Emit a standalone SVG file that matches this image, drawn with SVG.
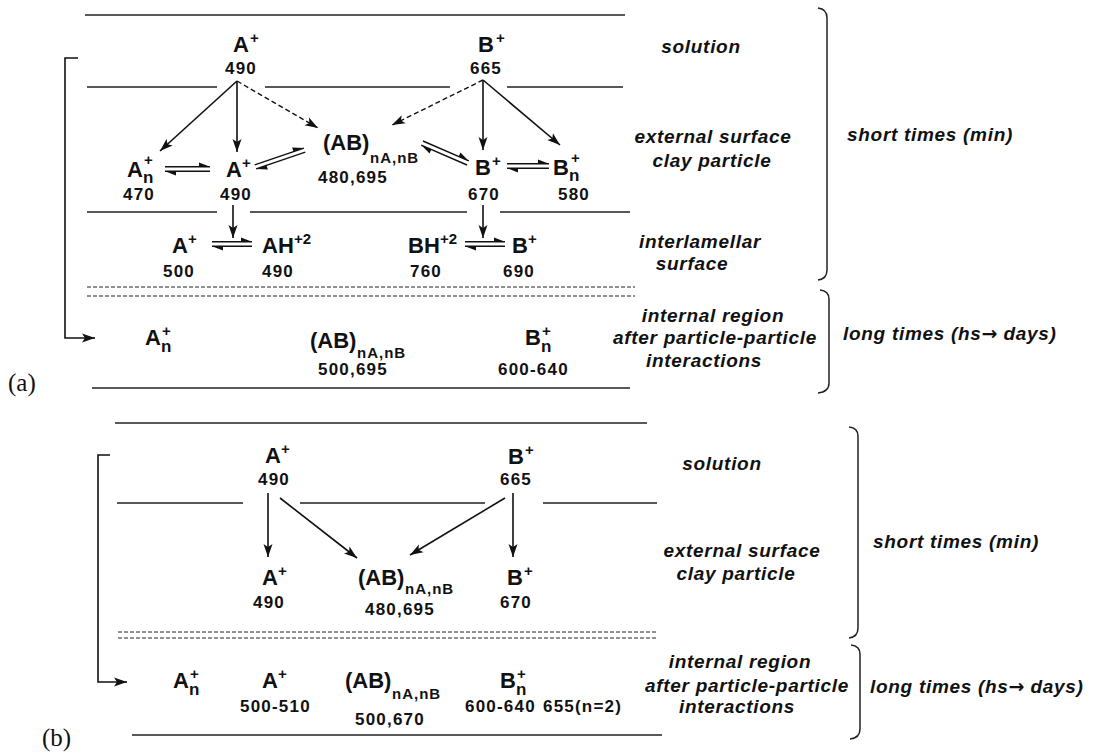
<svg xmlns="http://www.w3.org/2000/svg" width="1095" height="753" viewBox="0 0 1095 753">
<defs>
<marker id="ah" markerUnits="userSpaceOnUse" markerWidth="14" markerHeight="10" refX="13" refY="5" orient="auto"><path d="M0,0.5 L13,5 L0,9.5 L3,5 Z" fill="#111"/></marker>
</defs>
<style>
text{font-family:"Liberation Sans",Arial,sans-serif;font-weight:bold;fill:#111}
.l{font-size:22px}
.s{font-size:15px}
.n{font-size:17px;letter-spacing:1.2px}
.r{font-size:19px;font-style:italic;letter-spacing:0.7px}
.arw{font-family:"DejaVu Sans",sans-serif;font-style:normal;letter-spacing:0}
.t{font-family:"Liberation Serif","Times New Roman",serif;font-weight:normal;font-size:25px}
.ln{stroke:#222;stroke-width:1.5;fill:none}
.dl{stroke:#222;stroke-width:1.2;stroke-dasharray:4 2;fill:none}
.br{stroke:#222;stroke-width:1.5;fill:none}
.ar{stroke:#111;stroke-width:1.6;fill:none;marker-end:url(#ah)}
.da{stroke:#111;stroke-width:1.4;fill:none;stroke-dasharray:5 3;marker-end:url(#ah)}
.eql{stroke:#111;stroke-width:1.4;fill:none}
.eqh{fill:#111}
</style>

<!-- ===== Panel (a) ===== -->
<g id="a-layers">
<path class="ln" d="M85,15H625"/>
<path class="ln" d="M87,87H217M265,87H450M507,87H623"/>
<path class="ln" d="M87,212H217M250,212H467M500,212H630"/>
<path class="dl" d="M87,287H635M87,296H635"/>
<path class="ln" d="M92,388H630"/>
</g>

<g id="a-braces">
<path class="br" d="M818,8Q827,9 827,18V270Q827,279 818,280"/>
<path class="br" d="M820,290Q829,291 829,299V383Q829,392 818,393"/>
</g>

<g id="a-region-labels">
<text class="r" x="701" y="53" text-anchor="middle">solution</text>
<text class="r" x="713" y="143" text-anchor="middle">external surface</text>
<text class="r" x="712" y="167" text-anchor="middle">clay particle</text>
<text class="r" x="700" y="248" text-anchor="middle">interlamellar</text>
<text class="r" x="692" y="270" text-anchor="middle">surface</text>
<text class="r" x="713" y="322" text-anchor="middle">internal region</text>
<text class="r" x="715" y="344" text-anchor="middle">after particle-particle</text>
<text class="r" x="704" y="367" text-anchor="middle">interactions</text>
<text class="r" x="847" y="141">short times (min)</text>
<text class="r" x="843" y="340">long times (hs<tspan class="arw">→</tspan> days)</text>
</g>

<g id="a-A-sol"><text class="l" x="233" y="52">A</text><text class="s" x="250" y="43">+</text><text class="n" x="225" y="74">490</text></g>
<g id="a-B-sol"><text class="l" x="478" y="52">B</text><text class="s" x="496" y="43">+</text><text class="n" x="470" y="74">665</text></g>

<g id="a-An-ext"><text class="l" x="127" y="177">A</text><text class="s" x="144" y="165">+</text><text class="s" x="143" y="183" style="font-size:17px">n</text><text class="n" x="123" y="200">470</text></g>
<g id="a-A-ext"><text class="l" x="226" y="177">A</text><text class="s" x="242" y="168">+</text><text class="n" x="220" y="200">490</text></g>
<g id="a-AB-ext"><text class="l" x="323" y="150">(AB)</text><text class="s" x="370" y="163" style="letter-spacing:1px">nA,nB</text><text class="n" x="318" y="183">480,695</text></g>
<g id="a-B-ext"><text class="l" x="475" y="175">B</text><text class="s" x="492" y="166">+</text><text class="n" x="468" y="200">670</text></g>
<g id="a-Bn-ext"><text class="l" x="553" y="175">B</text><text class="s" x="571" y="163">+</text><text class="s" x="569" y="181" style="font-size:17px">n</text><text class="n" x="558" y="200">580</text></g>

<g id="a-A-int"><text class="l" x="172" y="253">A</text><text class="s" x="188" y="244">+</text><text class="n" x="163" y="277">500</text></g>
<g id="a-AH-int"><text class="l" x="262" y="253">AH</text><text class="s" x="294" y="244">+2</text><text class="n" x="262" y="277">490</text></g>
<g id="a-BH-int"><text class="l" x="408" y="253">BH</text><text class="s" x="440" y="244">+2</text><text class="n" x="410" y="277">760</text></g>
<g id="a-B-int"><text class="l" x="512" y="253">B</text><text class="s" x="528" y="244">+</text><text class="n" x="503" y="277">690</text></g>

<g id="a-An-long"><text class="l" x="145" y="345">A</text><text class="s" x="162" y="336">+</text><text class="s" x="161" y="352" style="font-size:17px">n</text></g>
<g id="a-AB-long"><text class="l" x="310" y="348">(AB)</text><text class="s" x="357" y="358" style="letter-spacing:1px">nA,nB</text><text class="n" x="318" y="375">500,695</text></g>
<g id="a-Bn-long"><text class="l" x="525" y="345">B</text><text class="s" x="542" y="336">+</text><text class="s" x="541" y="352" style="font-size:17px">n</text><text class="n" x="498" y="375">600-640</text></g>

<text id="a-tag" class="t" x="8" y="391">(a)</text>

<g id="a-connectors">
<path class="ar" d="M237,81L160,151"/>
<path class="ar" d="M237,81V152"/>
<path class="da" d="M237,81L318,128"/>
<path class="da" d="M483,80L392,125"/>
<path class="ar" d="M483,80V150"/>
<path class="ar" d="M483,80L560,145"/>
<path class="ar" d="M233,205V238"/>
<path class="ar" d="M483,205V238"/>
<path class="ar" d="M78,58H65V338H95"/>
<g transform="translate(187.5,169)"><path class="eql" d="M-22.5,-2.2H22.5M-22.5,2.2H22.5"/><path class="eqh" d="M22.5,-2.2L11.5,-6.5L11.5,-2.2ZM-22.5,2.2L-11.5,6.5L-11.5,2.2Z"/></g>
<g transform="translate(280,158.5) rotate(-18.8)"><path class="eql" d="M-26,-2.2H26M-26,2.2H26"/><path class="eqh" d="M26,-2.2L15,-6.5L15,-2.2ZM-26,2.2L-15,6.5L-15,2.2Z"/></g>
<g transform="translate(445,153) rotate(23.5)"><path class="eql" d="M-25,-2.2H25M-25,2.2H25"/><path class="eqh" d="M25,-2.2L14,-6.5L14,-2.2ZM-25,2.2L-14,6.5L-14,2.2Z"/></g>
<g transform="translate(528,166)"><path class="eql" d="M-21,-2.2H21M-21,2.2H21"/><path class="eqh" d="M21,-2.2L10,-6.5L10,-2.2ZM-21,2.2L-10,6.5L-10,2.2Z"/></g>
<g transform="translate(232,244)"><path class="eql" d="M-20,-2.2H20M-20,2.2H20"/><path class="eqh" d="M20,-2.2L9,-6.5L9,-2.2ZM-20,2.2L-9,6.5L-9,2.2Z"/></g>
<g transform="translate(485,244)"><path class="eql" d="M-20,-2.2H20M-20,2.2H20"/><path class="eqh" d="M20,-2.2L9,-6.5L9,-2.2ZM-20,2.2L-9,6.5L-9,2.2Z"/></g>
</g>

<!-- ===== Panel (b) ===== -->
<g id="b-layers">
<path class="ln" d="M115,423H647"/>
<path class="ln" d="M117,503H243M300,503H485M543,503H657"/>
<path class="dl" d="M118,632H658M118,638H658"/>
<path class="ln" d="M132,735H662"/>
</g>

<g id="b-braces">
<path class="br" d="M849,427Q858,428 858,436V628Q858,637 849,638"/>
<path class="br" d="M851,645Q860,646 860,654V729Q860,738 850,739"/>
</g>

<g id="b-region-labels">
<text class="r" x="722" y="470" text-anchor="middle">solution</text>
<text class="r" x="742" y="557" text-anchor="middle">external surface</text>
<text class="r" x="736" y="580" text-anchor="middle">clay particle</text>
<text class="r" x="740" y="668" text-anchor="middle">internal region</text>
<text class="r" x="747" y="692" text-anchor="middle">after particle-particle</text>
<text class="r" x="737" y="713" text-anchor="middle">interactions</text>
<text class="r" x="873" y="548">short times (min)</text>
<text class="r" x="870" y="693">long times (hs<tspan class="arw">→</tspan> days)</text>
</g>

<g id="b-A-sol"><text class="l" x="265" y="463">A</text><text class="s" x="281" y="454">+</text><text class="n" x="258" y="485">490</text></g>
<g id="b-B-sol"><text class="l" x="508" y="464">B</text><text class="s" x="525" y="455">+</text><text class="n" x="500" y="485">665</text></g>

<g id="b-A-ext"><text class="l" x="262" y="585">A</text><text class="s" x="278" y="576">+</text><text class="n" x="253" y="608">490</text></g>
<g id="b-AB-ext"><text class="l" x="358" y="585">(AB)</text><text class="s" x="405" y="594" style="letter-spacing:1px">nA,nB</text><text class="n" x="365" y="615">480,695</text></g>
<g id="b-B-ext"><text class="l" x="507" y="585">B</text><text class="s" x="524" y="576">+</text><text class="n" x="500" y="608">670</text></g>

<g id="b-An-long"><text class="l" x="173" y="688">A</text><text class="s" x="190" y="679">+</text><text class="s" x="189" y="695" style="font-size:17px">n</text></g>
<g id="b-A-long"><text class="l" x="262" y="688">A</text><text class="s" x="278" y="679">+</text><text class="n" x="240" y="712">500-510</text></g>
<g id="b-AB-long"><text class="l" x="345" y="688">(AB)</text><text class="s" x="392" y="699" style="letter-spacing:1px">nA,nB</text><text class="n" x="355" y="725">500,670</text></g>
<g id="b-Bn-long"><text class="l" x="500" y="688">B</text><text class="s" x="517" y="679">+</text><text class="s" x="516" y="695" style="font-size:17px">n</text><text class="n" x="465" y="712">600-640</text><text class="n" x="543" y="712">655(n=2)</text></g>

<text id="b-tag" class="t" x="42" y="746">(b)</text>

<g id="b-connectors">
<path class="ar" d="M268,493V557"/>
<path class="ar" d="M280,498L357,558"/>
<path class="ar" d="M505,498L410,555"/>
<path class="ar" d="M513,493V557"/>
<path class="ar" d="M110,455H98V682H127"/>
</g>
</svg>
